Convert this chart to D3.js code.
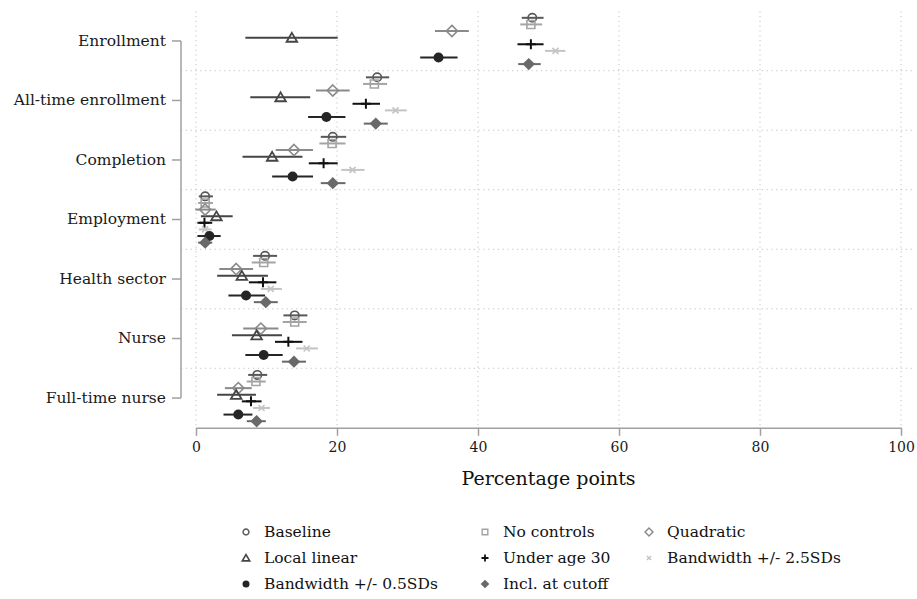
<!DOCTYPE html>
<html>
<head>
<meta charset="utf-8">
<script src="https://cdn.jsdelivr.net/npm/d3@7"></script>
<style>
  body { margin: 0; background: #fff; }
  svg { display: block; font-family: "DejaVu Serif", serif; }
  .grid line { stroke: #c2c2c2; stroke-width: 1; stroke-dasharray: 1.2,3.6; }
  .axis line, .axis path { stroke: #a0a0a0; stroke-width: 1.5; }
  .axis text { fill: #1a1a1a; }
</style>
</head>
<body>
<div id="chart"></div>
<script>
const categories = ['Enrollment', 'All-time enrollment', 'Completion', 'Employment',
                    'Health sector', 'Nurse', 'Full-time nurse'];
const seriesNames = ['Baseline', 'No controls', 'Quadratic', 'Local linear', 'Under age 30',
                     'Bandwidth +/- 2.5SDs', 'Bandwidth +/- 0.5SDs', 'Incl. at cutoff'];
const xTicks = [0, 20, 40, 60, 80, 100];

// [estimate, lower, upper] for each category, in category order
const baseline    = [[47.7, 46.2, 49.3], [25.7, 24.1, 27.4], [19.4, 17.7, 21.3], [1.3, 0.4, 2.4], [9.8, 8.1, 11.5], [14.0, 12.4, 15.8], [8.7, 7.4, 10.1]];
const noControls  = [[47.5, 46.0, 49.1], [25.3, 23.7, 27.1], [19.3, 17.5, 21.2], [1.3, 0.3, 2.4], [9.6, 7.9, 11.3], [14.0, 12.3, 15.7], [8.5, 7.2, 9.9]];
const quadratic   = [[36.3, 33.9, 38.7], [19.4, 17.0, 21.8], [13.9, 11.3, 16.6], [1.3, -0.1, 2.8], [5.7, 3.3, 8.1], [9.2, 6.7, 11.7], [6.0, 4.1, 7.9]];
const localLinear = [[13.6, 7.0, 20.1], [12.0, 7.7, 16.2], [10.8, 6.6, 15.1], [2.9, 0.7, 5.2], [6.5, 3.0, 10.2], [8.6, 5.1, 12.2], [5.7, 3.0, 8.5]];
const underAge30  = [[47.5, 45.6, 49.3], [24.1, 22.2, 26.1], [18.1, 16.0, 20.1], [1.2, 0.2, 2.3], [9.5, 7.5, 11.4], [13.1, 11.2, 15.1], [7.8, 6.5, 9.3]];
const bandwidth25 = [[51.0, 49.5, 52.4], [28.3, 26.8, 29.9], [22.2, 20.6, 23.9], [1.3, 0.4, 2.2], [10.6, 9.2, 12.2], [15.7, 14.2, 17.3], [9.3, 8.1, 10.5]];
const bandwidth05 = [[34.4, 31.8, 37.1], [18.5, 15.9, 21.2], [13.7, 10.8, 16.6], [1.9, 0.2, 3.5], [7.1, 4.6, 9.8], [9.6, 7.0, 12.3], [6.0, 3.9, 8.0]];
const inclCutoff  = [[47.2, 45.7, 48.9], [25.5, 23.8, 27.2], [19.4, 17.7, 21.2], [1.3, 0.3, 2.3], [9.9, 8.2, 11.6], [13.9, 12.2, 15.6], [8.6, 7.2, 9.9]];

const estimates = [baseline, noControls, quadratic, localLinear, underAge30, bandwidth25, bandwidth05, inclCutoff];

// marker look per series
const markerStyles = {
  'Baseline':             {shape: 'circle',   size: 4.2, color: '#585858', fill: false, sw: 1.6},
  'No controls':          {shape: 'square',   size: 4,   color: '#a4a4a4', fill: false, sw: 1.6},
  'Quadratic':            {shape: 'diamond',  size: 5.6, color: '#8a8a8a', fill: false, sw: 1.6},
  'Local linear':         {shape: 'triangle', size: 4.8, color: '#454545', fill: false, sw: 1.8},
  'Under age 30':         {shape: 'plus',     size: 5,   color: '#111111', fill: false, sw: 2},
  'Bandwidth +/- 2.5SDs': {shape: 'cross',    size: 3,   color: '#c4c4c4', fill: false, sw: 1.6},
  'Bandwidth +/- 0.5SDs': {shape: 'circle',   size: 5,   color: '#252525', fill: true,  sw: 0},
  'Incl. at cutoff':      {shape: 'diamond',  size: 6.2, color: '#696969', fill: true,  sw: 0}
};

const shapes = {
  circle:   h => `M${h},0A${h},${h} 0 1,1 ${-h},0A${h},${h} 0 1,1 ${h},0Z`,
  square:   h => `M${-h},${-h}H${h}V${h}H${-h}Z`,
  diamond:  h => `M0,${-h}L${h},0L0,${h}L${-h},0Z`,
  triangle: h => `M0,${-h}L${h * 1.1},${h * 0.85}L${-h * 1.1},${h * 0.85}Z`,
  plus:     h => `M${-h},0H${h}M0,${-h}V${h}`,
  cross:    h => `M${-h},${-h}L${h},${h}M${-h},${h}L${h},${-h}`
};

class CoefPlot {
  constructor(_config) {
    this.config = {
      parentElement: _config.parentElement,
      containerWidth: 917,
      containerHeight: 599,
      plotLeft: 181, plotRight: 913,
      xLeft: 196, xRight: 901,
      plotTop: 11.2, plotBottom: 427.8,
      legendCols: [246, 485, 649],
      legendRows: [532, 558, 584]
    };
    this.initVis();
  }

  initVis() {
    let vis = this;
    const c = vis.config;

    vis.svg = d3.select(c.parentElement).append('svg')
        .attr('width', c.containerWidth)
        .attr('height', c.containerHeight);

    vis.x = d3.scaleLinear().domain([0, 100]).range([c.xLeft, c.xRight]);
    vis.y = d3.scaleBand().domain(categories).range([c.plotTop, c.plotBottom]);
    vis.row = d3.scalePoint().domain(seriesNames).range([0, vis.y.bandwidth()]).padding(1);

    vis.grid = vis.svg.append('g').attr('class', 'grid');
    vis.marks = vis.svg.append('g');
    vis.xAxisG = vis.svg.append('g').attr('class', 'axis')
        .attr('transform', `translate(0,${c.plotBottom})`);
    vis.yAxisG = vis.svg.append('g').attr('class', 'axis')
        .attr('transform', `translate(${c.plotLeft},0)`);
    vis.legend = vis.svg.append('g');

    vis.updateVis();
  }

  updateVis() {
    let vis = this;
    const c = vis.config;

    // dotted grid
    vis.grid.selectAll('.hg')
        .data(categories.slice(1))
      .join('line')
        .attr('class', 'hg')
        .attr('x1', c.plotLeft).attr('x2', c.plotRight)
        .attr('y1', d => vis.y(d)).attr('y2', d => vis.y(d));
    vis.grid.selectAll('.vg')
        .data(xTicks)
      .join('line')
        .attr('class', 'vg')
        .attr('x1', d => vis.x(d)).attr('x2', d => vis.x(d))
        .attr('y1', c.plotTop).attr('y2', c.plotBottom);

    // x axis
    vis.xAxisG.call(d3.axisBottom(vis.x).tickValues(xTicks).tickSize(8).tickSizeOuter(0).tickPadding(6));
    vis.xAxisG.attr('font-family', null).attr('font-size', 14);
    vis.svg.append('text')
        .attr('x', (c.xLeft + c.xRight) / 2)
        .attr('y', 485)
        .attr('text-anchor', 'middle')
        .attr('font-size', 19)
        .attr('fill', '#111')
        .text('Percentage points');

    // y axis, line only between first and last tick
    vis.yAxisG.call(d3.axisLeft(vis.y).tickSize(9).tickPadding(6));
    vis.yAxisG.attr('font-family', null).attr('font-size', 15.5);
    vis.yAxisG.select('.domain').remove();
    const yc = d => vis.y(d) + vis.y.bandwidth() / 2;
    vis.yAxisG.append('line')
        .attr('y1', yc(categories[0]))
        .attr('y2', yc(categories[categories.length - 1]));

    // estimates with confidence intervals
    const points = [];
    seriesNames.forEach((s, i) => {
      estimates[i].forEach((v, j) => {
        points.push({series: s, cat: categories[j], est: v[0], lo: v[1], hi: v[2]});
      });
    });
    const yPos = d => vis.y(d.cat) + vis.row(d.series);

    vis.marks.selectAll('.ci')
        .data(points)
      .join('line')
        .attr('class', 'ci')
        .attr('x1', d => vis.x(d.lo)).attr('x2', d => vis.x(d.hi))
        .attr('y1', yPos).attr('y2', yPos)
        .attr('stroke', d => markerStyles[d.series].color)
        .attr('stroke-width', 2);

    vis.marks.selectAll('.pt')
        .data(points)
      .join('path')
        .attr('class', 'pt')
        .attr('transform', d => `translate(${vis.x(d.est)},${yPos(d)})`)
        .attr('d', d => shapes[markerStyles[d.series].shape](markerStyles[d.series].size))
        .attr('fill', d => markerStyles[d.series].fill ? markerStyles[d.series].color : 'none')
        .attr('stroke', d => markerStyles[d.series].color)
        .attr('stroke-width', d => markerStyles[d.series].sw);

    // legend, 3 columns
    const items = vis.legend.selectAll('.item')
        .data(seriesNames)
      .join('g')
        .attr('class', 'item')
        .attr('transform', (d, i) => `translate(${c.legendCols[i % 3]},${c.legendRows[Math.floor(i / 3)]})`);
    items.append('path')
        .attr('d', d => shapes[markerStyles[d].shape](markerStyles[d].size * 0.7))
        .attr('fill', d => markerStyles[d].fill ? markerStyles[d].color : 'none')
        .attr('stroke', d => markerStyles[d].color)
        .attr('stroke-width', d => markerStyles[d].sw * 0.9);
    items.append('text')
        .attr('x', 18)
        .attr('dy', '0.35em')
        .attr('font-size', 15.5)
        .attr('fill', '#111')
        .text(d => d);
  }
}

new CoefPlot({parentElement: '#chart'});
</script>
</body>
</html>
